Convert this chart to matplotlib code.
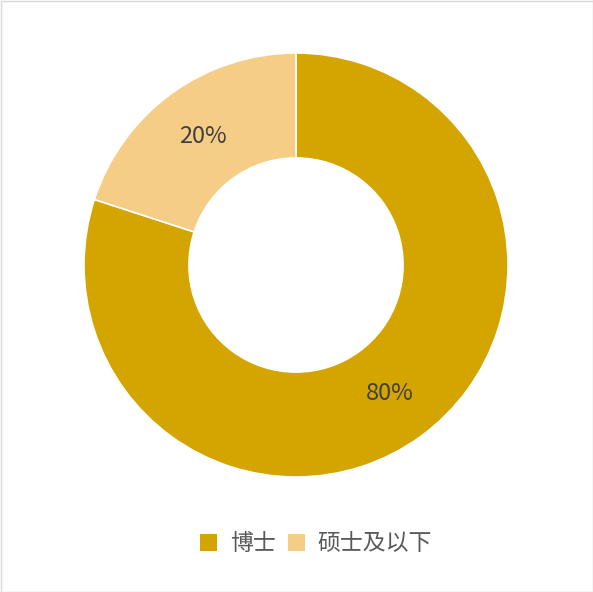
import matplotlib.pyplot as plt
from matplotlib.patches import Rectangle, Patch

plt.rcParams['font.family'] = ['Noto Sans CJK SC', 'DejaVu Sans']

labels = ['博士', '硕士及以下']
values = [80, 20]
colors = ['#D4A500', '#F5CD87']

fig = plt.figure(figsize=(5.93, 5.92), dpi=100)
ax = fig.add_axes([84 / 593, 115 / 592, 424 / 593, 424 / 592])

wedges, texts, autotexts = ax.pie(
    values, colors=colors, startangle=90, counterclock=False,
    radius=1.0, wedgeprops=dict(width=0.495, edgecolor='white', linewidth=1.2),
    autopct='%d%%', pctdistance=0.75,
    textprops=dict(fontsize=17, color='#404040'))
ax.set_xlim(-1, 1)
ax.set_ylim(-1, 1)
ax.set_aspect('equal')

handles = [Patch(facecolor=c, edgecolor='none') for c in colors]
fig.legend(handles, labels, loc='center', bbox_to_anchor=(316 / 593, 1 - 544 / 592),
           ncol=2, frameon=False, fontsize=16.5, labelcolor='#595959',
           handlelength=0.75, handleheight=0.75, handletextpad=0.55, columnspacing=0.55)

fig.patches.append(Rectangle((0.5 / 593, 0.5 / 592), 1 - 1 / 593, 1 - 1 / 592,
                             transform=fig.transFigure, fill=False,
                             edgecolor='#D9D9D9', linewidth=1))

fig.savefig('out.png', dpi=100)
